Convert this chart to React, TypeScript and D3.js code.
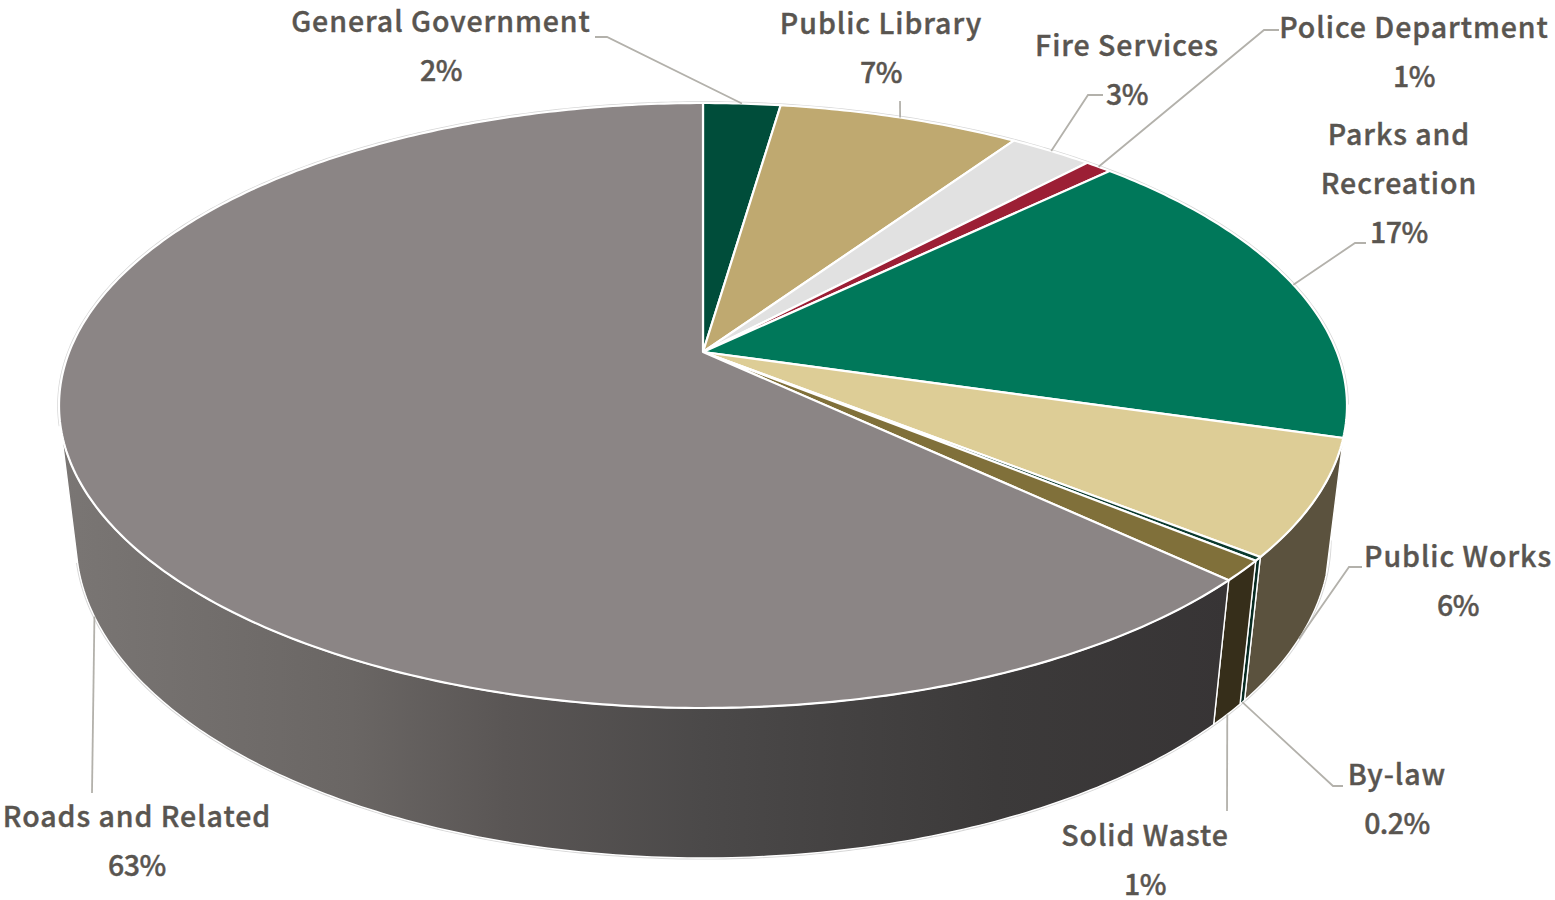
import React from "react";
import * as d3 from "d3";

// Municipal spending shares, clockwise from twelve o'clock
const departments = [
  "General Government",
  "Public Library",
  "Fire Services",
  "Police Department",
  "Parks and Recreation",
  "Public Works",
  "By-law",
  "Solid Waste",
  "Roads and Related",
];
const shares = [2.3, 7.2, 2.5, 0.8, 16.7, 6.2, 0.2, 1.1, 63.0];
const topColors = ["#004d3a", "#bfa970", "#e1e1e1", "#9c1f35", "#00785a", "#ddcd96", "#0b3a2e", "#80703a", "#8b8585"];
const wallColors = ["#00392b", "#8d7d53", "#a7a7a7", "#741727", "#005943", "#5b523e", "#082b22", "#362e1a", "url(#roadsWall)"];

// Label placement: wrapped name lines, centre x, first baseline, leader elbow points, rim the leader lands on
const nameLines = [
  ["General Government"],
  ["Public Library"],
  ["Fire Services"],
  ["Police Department"],
  ["Parks and", "Recreation"],
  ["Public Works"],
  ["By-law"],
  ["Solid Waste"],
  ["Roads and Related"],
];
const labelX = [441, 881, 1127, 1414, 1399, 1458, 1397, 1145, 137];
const labelY = [32, 34, 56, 38, 145, 567, 785, 846, 827];
const leaderElbows: [number, number][][] = [
  [[595, 37], [607, 37]],
  [[900, 101]],
  [[1103, 95], [1088, 95]],
  [[1279, 30], [1264, 30]],
  [[1366, 243], [1355, 243]],
  [[1362, 567], [1349, 567]],
  [[1343, 786], [1333, 786]],
  [[1227, 811]],
  [[92, 793]],
];
const leaderOnBase = [false, false, false, false, false, true, true, true, true];

// A circle seen in perspective: an ellipse whose true centre projects above the ellipse centre
type Disc = { cx: number; cy: number; rx: number; ry: number; tilt: number };
const topDisc: Disc = { cx: 703, cy: 405.5, rx: 644, ry: 302.5, tilt: 0.1769 };
const baseDisc: Disc = { cx: 703, cy: 540, rx: 627, ry: 318, tilt: 0.173 };

function project(d: Disc, angle: number): [number, number] {
  const c = d.tilt;
  const w = 1 + c * Math.cos(angle);
  const x = d.cx + (d.rx * Math.sqrt(1 - c * c) * Math.sin(angle)) / w;
  const y = d.cy - (d.ry * (Math.cos(angle) + c)) / w;
  return [x, y];
}

// Where the disc's true centre lands on screen; all wedges meet here
const centrePoint = (d: Disc): [number, number] => [d.cx, d.cy - d.ry * d.tilt];

function sweep(a0: number, a1: number): number[] {
  const steps = Math.max(2, Math.ceil(Math.abs(a1 - a0) / 0.012));
  return d3.range(steps + 1).map((i) => a0 + ((a1 - a0) * i) / steps);
}

const pieLayout = d3.pie<number>().sort(null).value((v) => v);
const arcs = pieLayout(shares);
const path = d3.line<[number, number]>();

// The side wall is only visible along the near edge of the disc
const wallStart = (100 * Math.PI) / 180;
const wallEnd = (256 * Math.PI) / 180;

const percentText = (v: number) => (v < 0.5 ? `${v.toFixed(1)}%` : `${Math.round(v)}%`);

const labelFont = `"Noto Sans CJK JP", "Noto Sans", sans-serif`;
const textColor = "#595550";
const lineHeight = 49;

export default function App() {
  const backRim = sweep(wallEnd - 2 * Math.PI, wallStart).map((t) => project(topDisc, t));
  const nearRim = sweep(wallStart, wallEnd).map((t) => project(baseDisc, t));
  return (
    <svg
      width={1555}
      height={900}
      viewBox="0 0 1555 900"
      style={{ position: "absolute", left: 0, top: 0, display: "block", background: "#fff" }}
    >
      <defs>
        <linearGradient id="roadsWall" gradientUnits="userSpaceOnUse" x1={60} x2={1230} y1={0} y2={0}>
          <stop offset="0" stopColor="#7a7674" />
          <stop offset="0.25" stopColor="#6a6664" />
          <stop offset="0.38" stopColor="#5a5655" />
          <stop offset="0.55" stopColor="#4b4949" />
          <stop offset="0.8" stopColor="#3c3a3a" />
          <stop offset="1" stopColor="#373435" />
        </linearGradient>
      </defs>

      {/* faint hairline round the outer silhouette */}
      <path d={path(backRim) ?? ""} fill="none" stroke="#d6d6d6" strokeWidth={3.6} />
      <path d={path(nearRim) ?? ""} fill="none" stroke="#d6d6d6" strokeWidth={3.2} />

      {/* side wall */}
      {arcs.map((a, i) => {
        const from = Math.max(a.startAngle, wallStart);
        const to = Math.min(a.endAngle, wallEnd);
        if (to <= from) return null;
        const angles = sweep(from, to);
        const pts = [
          ...angles.map((t) => project(topDisc, t)),
          ...angles.slice().reverse().map((t) => project(baseDisc, t)),
        ];
        return (
          <path
            key={departments[i]}
            d={path(pts) + "Z"}
            fill={wallColors[i]}
            stroke="#fff"
            strokeWidth={1.4}
            strokeLinejoin="round"
          />
        );
      })}

      {/* top face */}
      {arcs.map((a, i) => {
        const pts = sweep(a.startAngle, a.endAngle).map((t) => project(topDisc, t));
        return (
          <path
            key={departments[i]}
            d={path([centrePoint(topDisc), ...pts]) + "Z"}
            fill={topColors[i]}
            stroke="#fff"
            strokeWidth={2.2}
            strokeLinejoin="round"
          />
        );
      })}

      {/* leaders */}
      {arcs.map((a, i) => {
        const mid = (a.startAngle + a.endAngle) / 2;
        const anchor = project(leaderOnBase[i] ? baseDisc : topDisc, mid);
        return (
          <path
            key={departments[i]}
            d={path([...leaderElbows[i], anchor]) ?? ""}
            fill="none"
            stroke="#b3b1ab"
            strokeWidth={1.8}
          />
        );
      })}

      {/* labels */}
      {arcs.map((a, i) => (
        <text
          key={departments[i]}
          textAnchor="middle"
          fontFamily={labelFont}
          fontWeight={500}
          fontSize={28.5}
          fill={textColor}
          stroke={textColor}
          strokeWidth={0.4}
        >
          {nameLines[i].map((line, j) => (
            <tspan key={j} x={labelX[i]} y={labelY[i] + j * lineHeight} letterSpacing={0.95}>
              {line}
            </tspan>
          ))}
          <tspan
            x={labelX[i]}
            y={labelY[i] + nameLines[i].length * lineHeight}
            letterSpacing={-0.5}
          >
            {percentText(shares[i])}
          </tspan>
        </text>
      ))}
    </svg>
  );
}
